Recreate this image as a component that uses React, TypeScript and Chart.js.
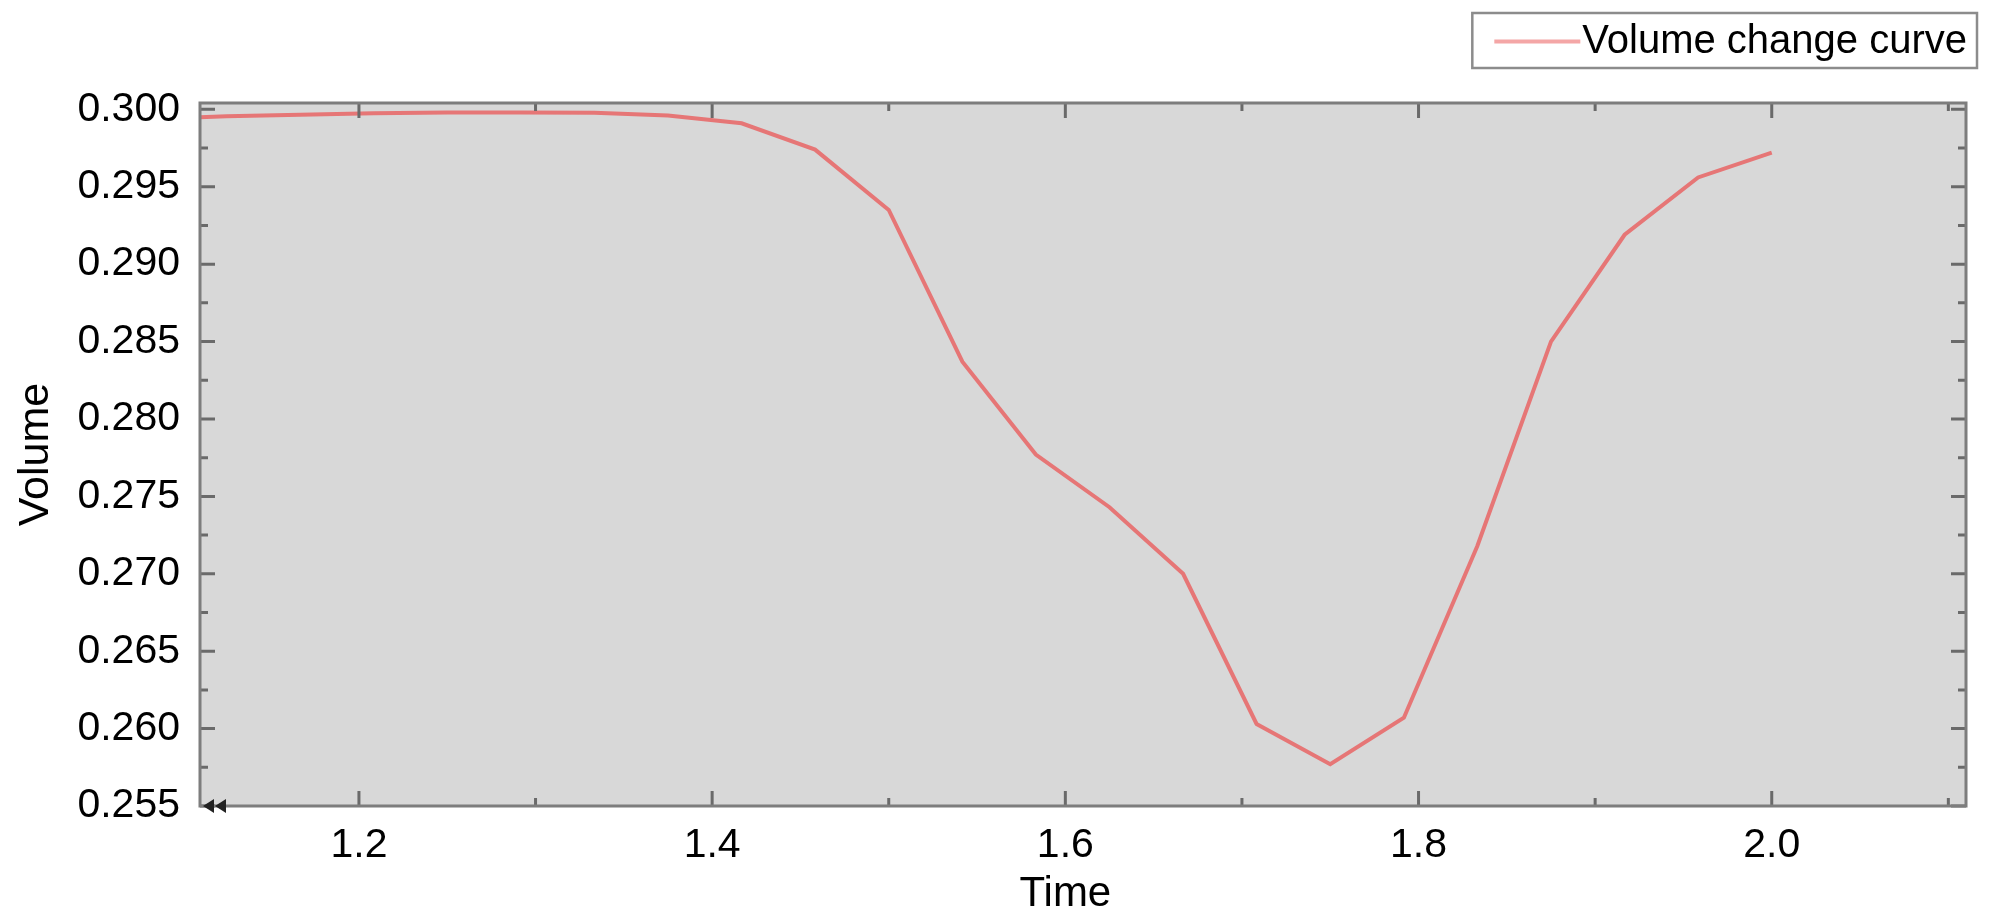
import React, { useEffect, useRef } from "react";
import { Chart, registerables } from "chart.js";

Chart.register(...registerables);

// ---- data ----
const TIMES = [
  1.0833, 1.125, 1.1667, 1.2083, 1.25, 1.2917, 1.3333, 1.375, 1.4167, 1.4583,
  1.5, 1.5417, 1.5833, 1.625, 1.6667, 1.7083, 1.75, 1.7917, 1.8333, 1.875,
  1.9167, 1.9583, 2.0,
];
const VOLUMES = [
  0.2994, 0.29955, 0.29965, 0.29975, 0.2998, 0.2998, 0.29978, 0.2996, 0.2991,
  0.2974, 0.2935, 0.2837, 0.2777, 0.2743, 0.27, 0.2603, 0.2577, 0.2607,
  0.2718, 0.285, 0.2919, 0.2956, 0.2972,
];
const X_TICKS = [1.2, 1.4, 1.6, 1.8, 2.0];
const Y_TICKS = [0.255, 0.26, 0.265, 0.27, 0.275, 0.28, 0.285, 0.29, 0.295, 0.3];
const X_RANGE = [1.11, 2.11];
const Y_RANGE = [0.255, 0.30041];
const SERIES_LABEL = "Volume change curve";
const X_TITLE = "Time";
const Y_TITLE = "Volume";

const FONT = "'Liberation Sans', Arial, sans-serif";
const LINE_COLOR = "#e67676";
const LEGEND_LINE_COLOR = "#f4a6a6";
const PLOT_BG = "#d8d8d8";
const AXIS_COLOR = "#7d7d7d";
const TICK_COLOR = "#6a6a6a";

function minorTicks(major: number[], lo: number, hi: number): number[] {
  const step = major[1] - major[0];
  const res: number[] = [];
  for (let v = major[0] - step / 2; v >= lo - 1e-9; v -= step) res.push(v);
  for (let i = 0; i < major.length; i++) {
    const m = major[i] + step / 2;
    if (m <= hi + 1e-9) res.push(m);
  }
  for (let v = major[major.length - 1] + step * 1.5; v <= hi + 1e-9; v += step) res.push(v);
  return res;
}

const framePlugin = {
  id: "frame",
  beforeDraw(chart: any) {
    const { ctx, chartArea: a } = chart;
    ctx.save();
    ctx.fillStyle = "#ffffff";
    ctx.fillRect(0, 0, chart.width, chart.height);
    ctx.fillStyle = PLOT_BG;
    ctx.fillRect(a.left, a.top, a.right - a.left, a.bottom - a.top);
    ctx.restore();
  },
  afterDraw(chart: any) {
    const { ctx, chartArea: a } = chart;
    const xs = chart.scales.x;
    const ys = chart.scales.y;
    ctx.save();
    // ticks
    ctx.strokeStyle = TICK_COLOR;
    ctx.lineWidth = 3;
    const major = 15;
    const minor = 8;
    const drawX = (vals: number[], len: number) => {
      vals.forEach((v) => {
        const px = xs.getPixelForValue(v);
        if (px < a.left || px > a.right) return;
        ctx.beginPath();
        ctx.moveTo(px, a.bottom);
        ctx.lineTo(px, a.bottom - len);
        ctx.moveTo(px, a.top);
        ctx.lineTo(px, a.top + len);
        ctx.stroke();
      });
    };
    const drawY = (vals: number[], len: number) => {
      vals.forEach((v) => {
        const py = ys.getPixelForValue(v);
        if (py < a.top - 1 || py > a.bottom + 1) return;
        ctx.beginPath();
        ctx.moveTo(a.left, py);
        ctx.lineTo(a.left + len, py);
        ctx.moveTo(a.right, py);
        ctx.lineTo(a.right - len, py);
        ctx.stroke();
      });
    };
    drawX(X_TICKS, major);
    drawX(minorTicks(X_TICKS, X_RANGE[0], X_RANGE[1]), minor);
    drawY(Y_TICKS, major);
    drawY(minorTicks(Y_TICKS, Y_RANGE[0], Y_RANGE[1]), minor);

    // frame
    ctx.strokeStyle = AXIS_COLOR;
    ctx.lineWidth = 3;
    ctx.strokeRect(a.left, a.top, a.right - a.left, a.bottom - a.top);

    // little double arrow at the origin corner
    ctx.fillStyle = "#222222";
    [0, 12].forEach((off) => {
      ctx.beginPath();
      ctx.moveTo(a.left + 3 + off, a.bottom);
      ctx.lineTo(a.left + 14 + off, a.bottom - 7);
      ctx.lineTo(a.left + 14 + off, a.bottom + 7);
      ctx.closePath();
      ctx.fill();
    });

    // x title
    ctx.fillStyle = "#000000";
    ctx.font = `42px ${FONT}`;
    ctx.textAlign = "center";
    ctx.textBaseline = "middle";
    const midX = xs.getPixelForValue((X_TICKS[0] + X_TICKS[X_TICKS.length - 1]) / 2);
    ctx.fillText(X_TITLE, midX, chart.height - 29);

    // legend
    const boxRight = a.right + 11;
    const boxTop = 13;
    const boxH = 55;
    ctx.font = `40px ${FONT}`;
    const tw = ctx.measureText(SERIES_LABEL).width;
    const lineLen = 86;
    const boxW = tw + lineLen + 34;
    const boxLeft = boxRight - boxW;
    ctx.fillStyle = "#ffffff";
    ctx.fillRect(boxLeft, boxTop, boxW, boxH);
    ctx.strokeStyle = "#8c8c8c";
    ctx.lineWidth = 2.5;
    ctx.strokeRect(boxLeft, boxTop, boxW, boxH);
    const cy = boxTop + boxH / 2;
    ctx.strokeStyle = LEGEND_LINE_COLOR;
    ctx.lineWidth = 4;
    ctx.beginPath();
    ctx.moveTo(boxLeft + 22, cy + 1);
    ctx.lineTo(boxLeft + 22 + lineLen, cy + 1);
    ctx.stroke();
    ctx.fillStyle = "#000000";
    ctx.textAlign = "left";
    ctx.textBaseline = "middle";
    ctx.fillText(SERIES_LABEL, boxLeft + 22 + lineLen + 2, cy + 1);
    ctx.restore();
  },
};

export default function App() {
  const ref = useRef<HTMLCanvasElement | null>(null);
  useEffect(() => {
    document.body.style.margin = "0";
    const canvas = ref.current;
    if (!canvas) return;
    const chart = new Chart(canvas, {
      type: "line",
      data: {
        datasets: [
          {
            label: SERIES_LABEL,
            data: TIMES.map((t, i) => ({ x: t, y: VOLUMES[i] })),
            borderColor: LINE_COLOR,
            backgroundColor: LINE_COLOR,
            borderWidth: 4,
            pointRadius: 0,
            tension: 0,
            fill: false,
          },
        ],
      },
      options: {
        responsive: false,
        animation: false,
        devicePixelRatio: 1,
        layout: { padding: { top: 103, right: 34, left: 0, bottom: 0 } },
        plugins: {
          legend: { display: false },
          tooltip: { enabled: false },
          title: { display: false },
        },
        scales: {
          x: {
            type: "linear",
            min: X_RANGE[0],
            max: X_RANGE[1],
            grid: { display: false },
            border: { display: false },
            afterBuildTicks: (s: any) => {
              s.ticks = X_TICKS.map((v) => ({ value: v }));
            },
            afterFit: (s: any) => {
              s.height = 117;
            },
            ticks: {
              autoSkip: false,
              maxRotation: 0,
              padding: 7,
              color: "#000000",
              font: { family: FONT, size: 41 },
              callback: (v: any) => Number(v).toFixed(1),
            },
          },
          y: {
            type: "linear",
            min: Y_RANGE[0],
            max: Y_RANGE[1],
            grid: { display: false },
            border: { display: false },
            afterBuildTicks: (s: any) => {
              s.ticks = Y_TICKS.map((v) => ({ value: v }));
            },
            afterFit: (s: any) => {
              s.width = 200;
            },
            title: {
              display: true,
              text: Y_TITLE,
              color: "#000000",
              font: { family: FONT, size: 43 },
              padding: { top: 10, bottom: 0 },
            },
            ticks: {
              autoSkip: false,
              padding: 12,
              color: "#000000",
              font: { family: FONT, size: 41 },
              callback: (v: any) => Number(v).toFixed(3),
            },
          },
        },
      },
      plugins: [framePlugin],
    });
    return () => chart.destroy();
  }, []);
  return (
    <div style={{ width: 2000, height: 923, background: "#ffffff" }}>
      <canvas ref={ref} width={2000} height={923} style={{ display: "block" }} />
    </div>
  );
}
